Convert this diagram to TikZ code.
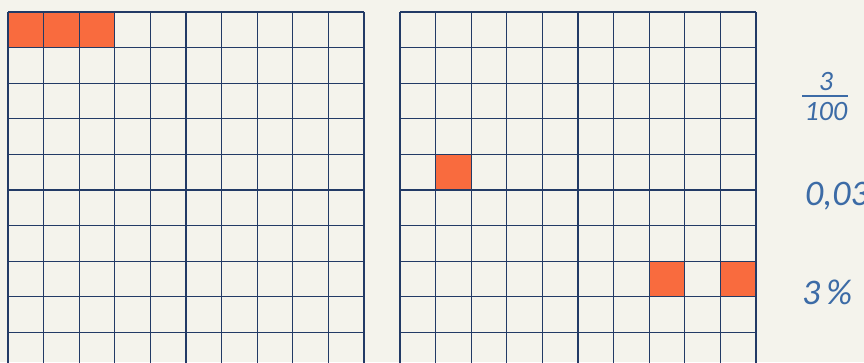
\documentclass[tikz,border=0pt]{standalone}
\usepackage{fontspec}
\setmainfont{Carlito}
\definecolor{bg}{HTML}{F4F3EC}
\definecolor{gridc}{HTML}{223A66}
\definecolor{cellred}{HTML}{F96B3E}
\definecolor{txt}{HTML}{3C6BA6}
\begin{document}
\begin{tikzpicture}[x=1pt,y=-1pt,
  gridline/.style={draw=gridc,line width=1.3pt},
  redcell/.style={fill=cellred},
  label/.style={text=txt,font=\itshape,inner sep=0pt}]
\useasboundingbox (0,0) rectangle (864,362);
\clip (0,0) rectangle (864,362);
\fill[bg] (0,0) rectangle (864,362);
\def\cs{35.6}
% left grid
\begin{scope}[shift={(8,12)}]
  \foreach \c in {0,1,2} \fill[redcell] (\c*\cs,0) rectangle ({(\c+1)*\cs},\cs);
  \foreach \i in {0,...,10} {
    \draw[gridline] (\i*\cs,0) -- (\i*\cs,10*\cs);
    \draw[gridline] (0,\i*\cs) -- (10*\cs,\i*\cs);
  }
\end{scope}
% right grid
\begin{scope}[shift={(400,12)}]
  \fill[redcell] (1*\cs,4*\cs) rectangle (2*\cs,5*\cs);
  \fill[redcell] (7*\cs,7*\cs) rectangle (8*\cs,8*\cs);
  \fill[redcell] (9*\cs,7*\cs) rectangle (10*\cs,8*\cs);
  \foreach \i in {0,...,10} {
    \draw[gridline] (\i*\cs,0) -- (\i*\cs,10*\cs);
    \draw[gridline] (0,\i*\cs) -- (10*\cs,\i*\cs);
  }
\end{scope}
% labels
\node[label,font=\itshape\fontsize{28}{28}\selectfont,anchor=base] (num) at (826,90) {3};
\draw[txt,line width=1.1pt] (802,96) -- (848,96);
\node[label,font=\itshape\fontsize{28}{28}\selectfont,anchor=base] (den) at (826,120) {100};
\node[label,font=\itshape\fontsize{36}{36}\selectfont,anchor=base west] (dec) at (805,205) {0,03};
\node[label,font=\itshape\fontsize{36}{36}\selectfont,anchor=base west] (pct) at (802,304) {3\,\%};
\end{tikzpicture}
\end{document}
